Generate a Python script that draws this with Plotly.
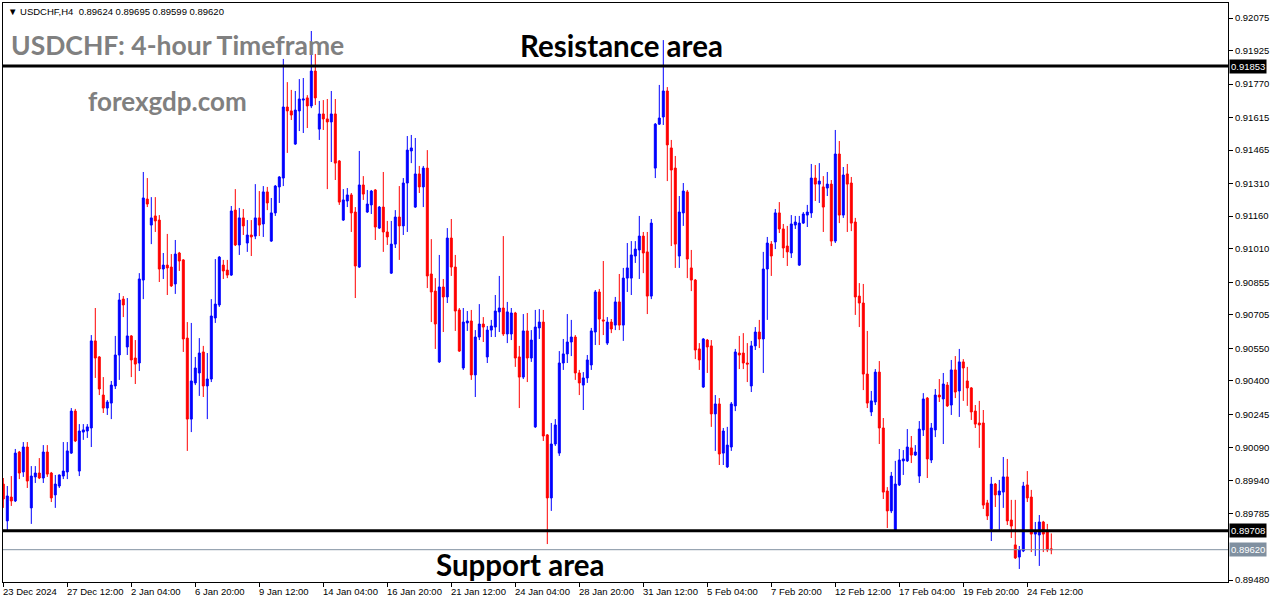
import plotly.graph_objects as go

opens = [0.89923,0.89753,0.89863,0.89845,0.90071,0.89979,0.90094,0.89813,0.89956,0.89974,0.89951,0.90071,0.89974,0.89873,0.89914,0.89960,0.89979,0.90066,0.90260,0.89983,
0.90163,0.90168,0.90182,0.90584,0.90510,0.90334,0.90274,0.90297,0.90376,0.90519,0.90777,0.90556,0.90607,0.90505,0.90482,0.90865,0.91239,0.91119,0.91161,0.91142,
0.90916,0.90934,0.90925,0.90847,0.90990,0.90958,0.90597,0.90223,0.90390,0.90436,0.90533,0.90376,0.90408,0.90690,0.90750,0.90934,0.90911,0.90888,0.91188,0.91027,
0.91152,0.91036,0.91073,0.91068,0.91152,0.91124,0.91272,0.91045,0.91175,0.91295,0.91336,0.91664,0.91646,0.91493,0.91646,0.91696,0.91706,0.91669,0.91830,0.91562,
0.91632,0.91609,0.91595,0.91632,0.91415,0.91142,0.91230,0.91258,0.91179,0.90925,0.91304,0.91179,0.91212,0.91281,0.91105,0.91202,0.91087,0.90897,0.91031,0.91156,
0.91115,0.91313,0.91461,0.91202,0.91355,0.91295,0.91382,0.90893,0.90814,0.90487,0.90833,0.90787,0.91059,0.90925,0.90727,0.90459,0.90667,0.90676,0.90427,0.90602,
0.90662,0.90510,0.90634,0.90648,0.90718,0.90736,0.90616,0.90616,0.90713,0.90510,0.90417,0.90630,0.90505,0.90187,0.90644,0.90671,0.90150,0.89859,0.90108,0.90066,
0.90482,0.90524,0.90579,0.90602,0.90436,0.90380,0.90413,0.90473,0.90625,0.90810,0.90681,0.90574,0.90671,0.90657,0.90764,0.90657,0.90874,0.90874,0.90976,0.91004,
0.91068,0.90995,0.90791,0.91382,0.91585,0.91618,0.91738,0.91475,0.91382,0.90976,0.91175,0.91272,0.90921,0.90865,0.90547,0.90371,0.90588,0.90561,0.90247,0.90293,
0.90066,0.90002,0.90094,0.90284,0.90528,0.90528,0.90482,0.90376,0.90561,0.90625,0.90593,0.90916,0.91031,0.91041,0.91175,0.91101,0.91022,0.90990,0.91119,0.90934,
0.91128,0.91165,0.91175,0.91336,0.91308,0.91295,0.91290,0.91308,0.91045,0.91447,0.91165,0.91355,0.91313,0.91133,0.90791,0.90759,0.90431,0.90256,0.90302,0.90440,
0.90182,0.89891,0.89799,0.89711,0.89919,0.90030,0.90030,0.90090,0.90057,0.89960,0.90173,0.90320,0.90034,0.90173,0.90334,0.90316,0.90380,0.90288,0.90450,0.90353,
0.90487,0.90399,0.90367,0.90260,0.90205,0.90205,0.89836,0.89716,0.89923,0.89873,0.89886,0.89956,0.89757,0.89642,0.89586,0.89614,0.89919,0.89863,0.89692,0.89688,
0.89748,0.89702,0.89624]

highs = [0.89951,0.89914,0.89960,0.90085,0.90076,0.90117,0.90117,0.90006,0.90006,0.90043,0.90103,0.90103,0.89979,0.89965,0.89967,0.90117,0.90117,0.90274,0.90270,0.90200,
0.90200,0.90200,0.90611,0.90736,0.90514,0.90417,0.90311,0.90399,0.90607,0.90805,0.90791,0.90782,0.90611,0.90588,0.90897,0.91364,0.91336,0.91248,0.91248,0.91165,
0.90990,0.91078,0.90985,0.91050,0.90995,0.90962,0.90671,0.90667,0.90510,0.90597,0.90561,0.90528,0.90777,0.90962,0.90976,0.90958,0.90958,0.91207,0.91285,0.91198,
0.91193,0.91142,0.91142,0.91308,0.91276,0.91299,0.91295,0.91244,0.91304,0.91345,0.91886,0.91779,0.91743,0.91738,0.91793,0.91798,0.91719,0.92015,0.91909,0.91692,
0.91696,0.91701,0.91738,0.91701,0.91419,0.91285,0.91290,0.91267,0.91202,0.91461,0.91345,0.91281,0.91281,0.91285,0.91207,0.91364,0.91138,0.91138,0.91188,0.91299,
0.91336,0.91530,0.91535,0.91521,0.91392,0.91392,0.91465,0.91054,0.90874,0.90981,0.90870,0.91105,0.91147,0.90981,0.90736,0.90736,0.90722,0.90727,0.90634,0.90754,
0.90694,0.90653,0.90681,0.90796,0.90884,0.91068,0.90764,0.90736,0.90718,0.90561,0.90708,0.90713,0.90634,0.90727,0.90731,0.90727,0.90154,0.90205,0.90223,0.90537,
0.90593,0.90708,0.90681,0.90611,0.90450,0.90440,0.90519,0.90644,0.90819,0.90824,0.90953,0.90694,0.90685,0.90787,0.90893,0.90921,0.91036,0.91045,0.91045,0.91161,
0.91087,0.91087,0.91147,0.91590,0.91766,0.91973,0.91756,0.91512,0.91438,0.91253,0.91313,0.91281,0.91004,0.90870,0.90574,0.90597,0.90593,0.90588,0.90334,0.90320,
0.90182,0.90187,0.90302,0.90547,0.90607,0.90620,0.90574,0.90584,0.90648,0.90681,0.90995,0.91064,0.91045,0.91193,0.91225,0.91124,0.91115,0.91165,0.91161,0.91161,
0.91179,0.91212,0.91401,0.91396,0.91405,0.91345,0.91364,0.91327,0.91558,0.91507,0.91387,0.91401,0.91341,0.91152,0.90851,0.90847,0.90630,0.90353,0.90454,0.90491,
0.90228,0.89909,0.89979,0.90030,0.90085,0.90080,0.90177,0.90145,0.90103,0.90214,0.90343,0.90325,0.90205,0.90362,0.90408,0.90436,0.90394,0.90496,0.90514,0.90547,
0.90500,0.90464,0.90371,0.90288,0.90307,0.90265,0.89850,0.89956,0.89928,0.89942,0.90048,0.90039,0.89850,0.89850,0.89637,0.89933,0.89983,0.89896,0.89748,0.89780,
0.89753,0.89739,0.89695]

lows = [0.89813,0.89711,0.89822,0.89840,0.89946,0.89956,0.89905,0.89739,0.89928,0.89946,0.89928,0.89956,0.89840,0.89813,0.89905,0.89946,0.89946,0.90062,0.90117,0.89960,
0.90127,0.90136,0.90094,0.90413,0.90334,0.90251,0.90242,0.90223,0.90362,0.90404,0.90694,0.90519,0.90417,0.90385,0.90445,0.90777,0.91202,0.91031,0.91087,0.90856,
0.90870,0.90796,0.90833,0.90801,0.90907,0.90533,0.90076,0.90163,0.90380,0.90330,0.90325,0.90223,0.90394,0.90667,0.90741,0.90870,0.90874,0.90884,0.91022,0.90981,
0.91073,0.90995,0.90976,0.91054,0.91068,0.91064,0.91188,0.91041,0.91161,0.91221,0.91299,0.91452,0.91604,0.91489,0.91553,0.91544,0.91567,0.91659,0.91673,0.91512,
0.91558,0.91285,0.91410,0.91327,0.91212,0.91138,0.91202,0.91087,0.90782,0.90921,0.91235,0.91175,0.91170,0.91050,0.91101,0.90995,0.91027,0.90893,0.91013,0.90958,
0.91073,0.91087,0.91405,0.91198,0.91267,0.91202,0.90828,0.90671,0.90547,0.90482,0.90625,0.90759,0.90884,0.90630,0.90533,0.90450,0.90630,0.90404,0.90325,0.90588,
0.90579,0.90482,0.90602,0.90602,0.90625,0.90607,0.90574,0.90588,0.90464,0.90274,0.90408,0.90394,0.90487,0.90182,0.90593,0.90122,0.89646,0.89799,0.90099,0.90053,
0.90450,0.90482,0.90514,0.90404,0.90334,0.90265,0.90390,0.90450,0.90565,0.90565,0.90611,0.90565,0.90620,0.90634,0.90634,0.90584,0.90810,0.90796,0.90944,0.90870,
0.90897,0.90708,0.90777,0.91336,0.91581,0.91581,0.91322,0.91022,0.90921,0.90921,0.91115,0.90874,0.90814,0.90500,0.90450,0.90367,0.90436,0.90187,0.90076,0.90011,
0.90011,0.89997,0.90076,0.90260,0.90454,0.90454,0.90394,0.90348,0.90542,0.90551,0.90436,0.90681,0.90884,0.91008,0.91082,0.90967,0.90930,0.90967,0.91101,0.90930,
0.91124,0.91110,0.91152,0.91230,0.91221,0.91087,0.91253,0.91022,0.91036,0.91128,0.91152,0.91087,0.91091,0.90704,0.90648,0.90357,0.90274,0.90237,0.90288,0.90108,
0.89854,0.89720,0.89789,0.89706,0.89914,0.89965,0.90025,0.90020,0.90053,0.89928,0.90145,0.89951,0.90020,0.90140,0.90302,0.90108,0.90279,0.90242,0.90320,0.90233,
0.90307,0.90284,0.90219,0.90182,0.90090,0.89808,0.89757,0.89660,0.89817,0.89711,0.89813,0.89734,0.89674,0.89577,0.89531,0.89609,0.89840,0.89609,0.89591,0.89545,
0.89609,0.89609,0.89599]

closes = [0.89854,0.89868,0.89845,0.90066,0.89974,0.90094,0.89937,0.89960,0.89974,0.89951,0.90071,0.89969,0.89859,0.89923,0.89965,0.89983,0.90076,0.90260,0.90122,0.90168,
0.90173,0.90187,0.90584,0.90505,0.90362,0.90274,0.90302,0.90380,0.90519,0.90773,0.90750,0.90607,0.90496,0.90477,0.90870,0.91244,0.91216,0.91152,0.91138,0.90916,
0.90934,0.90921,0.90838,0.90985,0.90953,0.90593,0.90223,0.90399,0.90459,0.90528,0.90376,0.90408,0.90699,0.90754,0.90971,0.90907,0.90888,0.91184,0.91027,0.91152,
0.91115,0.91073,0.91064,0.91152,0.91119,0.91272,0.91221,0.91175,0.91299,0.91341,0.91664,0.91646,0.91627,0.91650,0.91701,0.91701,0.91669,0.91830,0.91706,0.91632,
0.91609,0.91595,0.91632,0.91405,0.91225,0.91235,0.91258,0.91175,0.90930,0.91304,0.91262,0.91216,0.91276,0.91110,0.91202,0.91087,0.91064,0.91031,0.91156,0.91115,
0.91313,0.91465,0.91475,0.91355,0.91295,0.91382,0.90884,0.90810,0.90662,0.90833,0.90787,0.91059,0.90925,0.90722,0.90537,0.90671,0.90676,0.90427,0.90602,0.90662,
0.90648,0.90634,0.90653,0.90722,0.90736,0.90616,0.90718,0.90713,0.90505,0.90417,0.90630,0.90505,0.90588,0.90648,0.90671,0.90145,0.89859,0.90108,0.90196,0.90482,
0.90524,0.90579,0.90602,0.90436,0.90390,0.90413,0.90496,0.90630,0.90810,0.90685,0.90676,0.90671,0.90639,0.90764,0.90657,0.90874,0.90921,0.90981,0.91008,0.91068,
0.90990,0.90791,0.91128,0.91585,0.91613,0.91738,0.91489,0.91373,0.91031,0.91179,0.91276,0.90962,0.90865,0.90542,0.90496,0.90593,0.90556,0.90247,0.90293,0.90062,
0.90168,0.90103,0.90293,0.90533,0.90519,0.90482,0.90477,0.90561,0.90625,0.90593,0.90916,0.91036,0.90976,0.91175,0.91101,0.91013,0.90995,0.91124,0.91133,0.91128,
0.91170,0.91179,0.91336,0.91308,0.91322,0.91202,0.91308,0.91045,0.91447,0.91165,0.91350,0.91308,0.91128,0.90787,0.90759,0.90431,0.90297,0.90307,0.90440,0.90182,
0.89886,0.89799,0.89960,0.89923,0.90034,0.90039,0.90094,0.90057,0.90071,0.90177,0.90316,0.90039,0.90182,0.90334,0.90325,0.90385,0.90284,0.90450,0.90348,0.90487,
0.90459,0.90367,0.90256,0.90200,0.90196,0.89826,0.89776,0.89923,0.89873,0.89891,0.89956,0.89753,0.89729,0.89582,0.89619,0.89914,0.89859,0.89692,0.89702,0.89748,
0.89692,0.89619,0.89620]

date_labels = ["23 Dec 2024", "27 Dec 12:00", "2 Jan 04:00", "6 Jan 20:00", "9 Jan 12:00",
               "14 Jan 04:00", "16 Jan 20:00", "21 Jan 12:00", "24 Jan 04:00", "28 Jan 20:00",
               "31 Jan 12:00", "5 Feb 04:00", "7 Feb 20:00", "12 Feb 12:00", "17 Feb 04:00",
               "19 Feb 20:00", "24 Feb 12:00"]
date_label_bars = [0, 16, 32, 48, 64, 80, 96, 112, 128, 144, 160, 176, 192, 208, 224, 240, 256]

price_ticks = [0.92075, 0.91925, 0.91770, 0.91615, 0.91465, 0.91310, 0.91160, 0.91010, 0.90855,
               0.90705, 0.90550, 0.90400, 0.90245, 0.90090, 0.89940, 0.89785, 0.89480]

resistance_level = 0.91853
support_level = 0.89708
bid_level = 0.89620

symbol_header = "USDCHF,H4  0.89624 0.89695 0.89599 0.89620"
title_text = "USDCHF: 4-hour Timeframe"
site_text = "forexgdp.com"

W, H = 1276, 604
ML, MR, MT, MB = 3, 48, 3, 22
PW, PH = W - ML - MR, H - MT - MB

def px_x(px):
    return (px - ML) / PW

def px_y(py):
    return 1 - (py - MT) / PH

bars = list(range(len(opens)))

fig = go.Figure()
fig.add_trace(go.Candlestick(
    x=bars, open=opens, high=highs, low=lows, close=closes,
    increasing=dict(line=dict(color="#0000FF", width=1), fillcolor="#0000FF"),
    decreasing=dict(line=dict(color="#FF0000", width=1), fillcolor="#FF0000"),
    whiskerwidth=0, hoverinfo="skip", showlegend=False,
))

shapes = [
    dict(type="line", xref="paper", x0=0, x1=1, yref="y", y0=resistance_level, y1=resistance_level,
         line=dict(color="black", width=3)),
    dict(type="line", xref="paper", x0=0, x1=1, yref="y", y0=support_level, y1=support_level,
         line=dict(color="black", width=3)),
    dict(type="line", xref="paper", x0=0, x1=1, yref="y", y0=bid_level, y1=bid_level,
         line=dict(color="#8090A0", width=1)),
]

annotations = []
for b, lab in zip(date_label_bars, date_labels):
    annotations.append(dict(x=b, xref="x", y=0, yref="paper", yanchor="top", xanchor="left",
                            text=lab, showarrow=False, xshift=-2, yshift=-2,
                            font=dict(family="Liberation Sans", size=9.5, color="black")))

for lvl, bg in [(resistance_level, "black"), (support_level, "black"), (bid_level, "#8090A0")]:
    annotations.append(dict(x=1, xref="paper", y=lvl, yref="y", xanchor="left", yanchor="middle",
                            text=f"{lvl:.5f}", showarrow=False, bgcolor=bg, borderpad=1, xshift=1,
                            font=dict(family="Liberation Sans", size=9.5, color="white")))

annotations.append(dict(x=px_x(6), xref="paper", y=px_y(4), yref="paper", xanchor="left", yanchor="top",
                        text="\u25BC " + symbol_header, showarrow=False,
                        font=dict(family="Liberation Sans", size=9.5, color="black")))
annotations.append(dict(x=px_x(9), xref="paper", y=px_y(45), yref="paper", xanchor="left", yanchor="middle",
                        text="<b>" + title_text + "</b>", showarrow=False,
                        font=dict(family="Lato", size=26.5, color="#808080")))
annotations.append(dict(x=px_x(86), xref="paper", y=px_y(101), yref="paper", xanchor="left", yanchor="middle",
                        text="<b>" + site_text + "</b>", showarrow=False,
                        font=dict(family="Lato", size=26, color="#808080")))
annotations.append(dict(x=px_x(622), xref="paper", y=px_y(45), yref="paper", xanchor="center", yanchor="middle",
                        text="<b>Resistance area</b>", showarrow=False,
                        font=dict(family="Lato", size=29.5, color="black")))
annotations.append(dict(x=px_x(520), xref="paper", y=px_y(564), yref="paper", xanchor="center", yanchor="middle",
                        text="<b>Support area</b>", showarrow=False,
                        font=dict(family="Lato", size=29.5, color="black")))

fig.update_layout(
    width=W, height=H,
    margin=dict(l=ML, r=MR, t=MT, b=MB),
    paper_bgcolor="white", plot_bgcolor="white",
    shapes=shapes, annotations=annotations,
    xaxis=dict(range=[-0.075, 306.175], rangeslider=dict(visible=False), showgrid=False, zeroline=False,
               showline=True, linecolor="black", linewidth=1, mirror=True,
               tickvals=date_label_bars, ticks="outside", ticklen=4, tickcolor="black",
               showticklabels=False),
    yaxis=dict(range=[0.894708, 0.921443], side="right", showgrid=False, zeroline=False,
               showline=True, linecolor="black", linewidth=1, mirror=True,
               tickvals=price_ticks, ticktext=[f"{v:.5f}" for v in price_ticks],
               ticks="outside", ticklen=4, tickcolor="black",
               tickfont=dict(family="Liberation Sans", size=9.5, color="black")),
    showlegend=False,
)

fig.write_html("out.html", config={"displayModeBar": False},
               post_script="document.body.style.margin='0';document.body.style.padding='0';")
